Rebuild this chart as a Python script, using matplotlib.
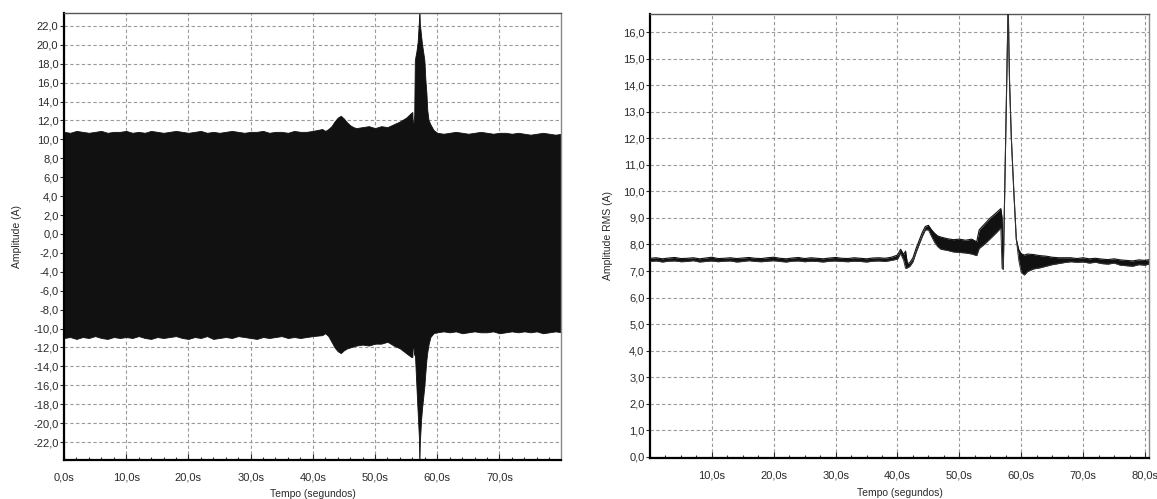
import numpy as np
import matplotlib
matplotlib.use('Agg')
import matplotlib.pyplot as plt
from matplotlib.ticker import FuncFormatter, MultipleLocator

plt.rcParams['font.family'] = ['Liberation Sans', 'DejaVu Sans']

# ---- left chart: envelope of the current signal (A) ----
pre_t = np.arange(0, 41)
pre_hi = [10.8, 10.7, 10.9, 10.8, 10.7, 10.8, 10.9, 10.7, 10.8, 10.8,
          10.9, 10.7, 10.8, 10.7, 10.9, 10.8, 10.7, 10.8, 10.9, 10.8,
          10.7, 10.8, 10.9, 10.7, 10.8, 10.7, 10.8, 10.9, 10.8, 10.7,
          10.8, 10.8, 10.9, 10.7, 10.8, 10.8, 10.7, 10.9, 10.8, 10.8, 10.9]
pre_lo = [-11.0, -10.9, -11.1, -10.9, -11.0, -10.8, -11.0, -11.1, -10.9, -11.0,
          -10.9, -11.0, -10.8, -11.0, -11.1, -10.9, -11.0, -10.9, -10.8, -11.0,
          -11.1, -10.9, -11.0, -10.8, -11.1, -11.0, -10.9, -11.0, -10.8, -10.9,
          -11.0, -11.1, -10.9, -11.0, -10.9, -10.8, -11.0, -10.9, -11.0, -10.9, -10.8]

ev_t = [41.5, 42, 42.5, 43, 43.5, 44, 44.5, 45, 45.5, 46,
        46.5, 47, 48, 49, 50, 51, 52, 53, 54, 55,
        55.8, 56.0, 56.1]
ev_hi = [11.1, 10.9, 11.1, 11.4, 11.9, 12.3, 12.5, 12.2, 11.8, 11.5,
         11.3, 11.2, 11.3, 11.4, 11.2, 11.4, 11.3, 11.6, 11.9, 12.3,
         12.8, 12.9, 11.0]
ev_lo = [-10.7, -10.5, -10.8, -11.4, -12.0, -12.4, -12.6, -12.3, -12.1, -12.0,
         -11.9, -11.8, -11.7, -11.8, -11.6, -11.6, -11.4, -11.8, -12.1, -12.6,
         -13.0, -13.0, -11.3]

spk_t = [56.3, 56.4, 56.65, 56.85, 57.05, 57.13, 57.2, 57.4, 57.55, 57.93,
         58.1, 58.26, 58.4, 58.6, 58.9, 59.4, 60]
spk_hi = [12.6, 18.4, 19.3, 20.3, 22.5, 24.0, 22.3, 21.0, 20.1, 18.4,
          16.3, 14.9, 13.1, 12.05, 11.6, 11.0, 10.7]
spk_lo = [-12.8, -12.5, -16.1, -18.8, -21.5, -24.5, -22.1, -19.7, -18.5, -16.1,
          -14.6, -13.3, -12.5, -11.7, -10.9, -10.5, -10.4]

post_t = np.arange(61, 81)
post_hi = [10.6, 10.7, 10.8, 10.7, 10.6, 10.7, 10.8, 10.7, 10.6, 10.7,
           10.7, 10.6, 10.7, 10.6, 10.5, 10.6, 10.7, 10.6, 10.5, 10.6]
post_lo = [-10.3, -10.4, -10.3, -10.5, -10.4, -10.3, -10.4, -10.4, -10.3, -10.5,
           -10.4, -10.3, -10.4, -10.3, -10.4, -10.3, -10.5, -10.4, -10.3, -10.4]

# ---- right chart: RMS amplitude (A), drawn as a thin noisy band ----
rms_t0 = np.arange(0, 40)
rms_hi0 = [7.48, 7.50, 7.46, 7.49, 7.51, 7.47, 7.48, 7.50, 7.46, 7.49,
           7.52, 7.47, 7.48, 7.50, 7.47, 7.49, 7.51, 7.48, 7.47, 7.50,
           7.52, 7.48, 7.46, 7.49, 7.51, 7.47, 7.50, 7.48, 7.46, 7.49,
           7.51, 7.48, 7.47, 7.50, 7.48, 7.46, 7.49, 7.50, 7.48, 7.52]
rms_lo0 = [7.36, 7.38, 7.34, 7.37, 7.38, 7.35, 7.36, 7.39, 7.34, 7.36,
           7.38, 7.35, 7.37, 7.38, 7.34, 7.36, 7.39, 7.36, 7.35, 7.37,
           7.39, 7.36, 7.34, 7.37, 7.38, 7.35, 7.37, 7.36, 7.34, 7.37,
           7.38, 7.36, 7.35, 7.37, 7.36, 7.34, 7.37, 7.38, 7.36, 7.40]

rms_t1 = [40, 40.5, 41.0, 41.3, 41.6, 42.0, 42.5, 43, 43.5, 44,
          44.5, 45, 45.5, 46, 46.5, 47, 48, 49, 50, 51,
          52, 52.8, 53.2, 54, 55, 56, 56.7, 56.9, 57.1, 57.8,
          57.9, 58.0, 58.1, 58.4, 58.8, 59.2, 59.6, 60, 60.5, 61,
          62, 63, 64, 65, 66, 67, 68]
rms_hi1 = [7.60, 7.82, 7.62, 7.75, 7.28, 7.32, 7.50, 7.85, 8.15, 8.45,
           8.68, 8.72, 8.55, 8.42, 8.32, 8.28, 8.22, 8.18, 8.20, 8.16,
           8.20, 8.10, 8.55, 8.75, 9.00, 9.20, 9.35, 9.00, 7.12, 16.0,
           17.0, 15.5, 14.2, 12.0, 10.0, 8.2, 7.8, 7.65, 7.60, 7.64,
           7.62, 7.58, 7.56, 7.52, 7.50, 7.50, 7.50]
rms_lo1 = [7.45, 7.66, 7.40, 7.10, 7.12, 7.18, 7.35, 7.70, 8.00, 8.30,
           8.55, 8.55, 8.30, 8.08, 7.92, 7.82, 7.78, 7.72, 7.70, 7.68,
           7.64, 7.58, 7.85, 8.00, 8.22, 8.45, 8.62, 7.10, 7.06, 16.0,
           17.0, 15.5, 14.2, 12.0, 10.0, 8.2, 7.4, 6.95, 6.85, 6.98,
           7.08, 7.12, 7.18, 7.24, 7.28, 7.32, 7.35]

rms_t2 = [69, 70, 71, 72, 73, 74, 75, 76, 77, 78, 79, 80, 80.7]
rms_hi2 = [7.47, 7.50, 7.46, 7.48, 7.45, 7.43, 7.46, 7.42, 7.40, 7.38, 7.42, 7.40, 7.43]
rms_lo2 = [7.33, 7.34, 7.30, 7.33, 7.28, 7.26, 7.30, 7.22, 7.20, 7.18, 7.24, 7.22, 7.27]

sig_t = np.concatenate([pre_t, ev_t, spk_t, post_t])
sig_hi = np.concatenate([pre_hi, ev_hi, spk_hi, post_hi])
sig_lo = np.concatenate([pre_lo, ev_lo, spk_lo, post_lo])

rms_t = np.concatenate([rms_t0, rms_t1, rms_t2])
rms_hi = np.concatenate([rms_hi0, rms_hi1, rms_hi2])
rms_lo = np.concatenate([rms_lo0, rms_lo1, rms_lo2])

ink = '#111111'
grid_col = '#9a9a9a'
txt = '#2a2a2a'

fig = plt.figure(figsize=(11.57, 4.99), dpi=100)
ax1 = fig.add_axes([0.0553, 0.0782, 0.4296, 0.8958])
ax2 = fig.add_axes([0.5618, 0.0822, 0.4313, 0.8898])

ax1.fill_between(sig_t, sig_lo, sig_hi, color=ink, edgecolor=ink, linewidth=0.6, zorder=2)

ax2.fill_between(rms_t, rms_lo, rms_hi, color=ink, linewidth=0, zorder=2)
ax2.plot(rms_t, rms_hi, color=ink, lw=0.8, zorder=3)
ax2.plot(rms_t, rms_lo, color='#333333', lw=0.7, zorder=3)

yfmt = FuncFormatter(lambda v, _: f"{v:.1f}".replace('.', ','))
xfmt = FuncFormatter(lambda v, _: f"{v:.1f}s".replace('.', ','))

ax1.set_xlim(0, 79.9)
ax1.set_ylim(-23.9, 23.37)
ax1.set_xticks(np.arange(0, 71, 10))
ax1.set_yticks(np.arange(-22, 23, 2))
ax1.xaxis.set_minor_locator(MultipleLocator(2))

ax2.set_xlim(0, 80.65)
ax2.set_ylim(-0.04, 16.68)
ax2.set_xticks(np.arange(10, 81, 10))
ax2.set_yticks(np.arange(0, 17, 1))
ax2.xaxis.set_minor_locator(MultipleLocator(2.5))

for ax in (ax1, ax2):
    ax.xaxis.set_major_formatter(xfmt)
    ax.yaxis.set_major_formatter(yfmt)
    ax.set_axisbelow(True)
    ax.grid(True, which='major', color=grid_col, linestyle=(0, (3, 2.2)), linewidth=0.8)
    ax.tick_params(axis='y', direction='out', length=3, width=0.8, pad=1,
                   labelsize=8, colors=txt)
    ax.tick_params(axis='x', which='major', direction='in', length=4, width=0.8,
                   pad=9, labelsize=8, colors=txt)
    ax.tick_params(axis='x', which='minor', direction='in', length=2.5, width=0.8,
                   colors=txt)
    ax.spines['left'].set_linewidth(1.6)
    ax.spines['bottom'].set_linewidth(1.6)
    ax.spines['left'].set_color('black')
    ax.spines['bottom'].set_color('black')
    ax.spines['top'].set_linewidth(1.0)
    ax.spines['top'].set_color('#555555')
    ax.spines['right'].set_linewidth(1.0)
    ax.spines['right'].set_color('#888888')
    ax.set_xlabel('Tempo (segundos)', fontsize=7.5, color=txt)

ax1.set_ylabel('Amplitude (A)', fontsize=7.5, color=txt)
ax2.set_ylabel('Amplitude RMS (A)', fontsize=7.5, color=txt)
ax1.yaxis.set_label_coords(-0.084, 0.5)
ax2.yaxis.set_label_coords(-0.074, 0.5)
ax1.xaxis.set_label_coords(0.5, -0.064)
ax2.xaxis.set_label_coords(0.5, -0.067)

fig.savefig('out.png', dpi=100)
